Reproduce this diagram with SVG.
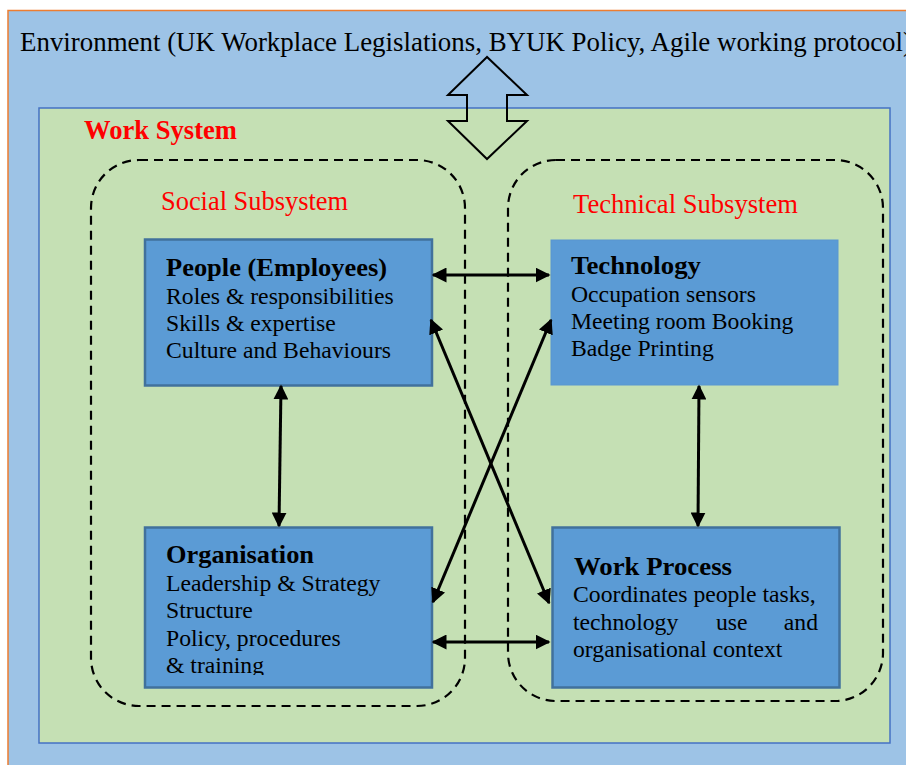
<svg xmlns="http://www.w3.org/2000/svg" width="906" height="765" viewBox="0 0 906 765">
  <defs>
    <marker id="ah" viewBox="0 0 10 10" refX="9" refY="5" markerWidth="5" markerHeight="5" orient="auto-start-reverse" markerUnits="strokeWidth">
      <path d="M0,0 L10,5 L0,10 Z" fill="#000"/>
    </marker>
    <clipPath id="org-clip">
      <rect x="145" y="527" width="287" height="148"/>
    </clipPath>
    <style>
      .serif { font-family: "Liberation Serif", "Times New Roman", serif; }
      .env { fill: #9DC3E6; stroke: #ED7D31; stroke-width: 1.5; }
      .ws { fill: #C5E0B4; stroke: #4472C4; stroke-width: 1.5; }
      .sub { fill: none; stroke: #000; stroke-width: 2.2; stroke-dasharray: 9 6; }
      .box { fill: #5B9BD5; stroke: #41719C; stroke-width: 2.5; }
      .box-thin { fill: #5B9BD5; stroke: #5A96CF; stroke-width: 1; }
      .red { fill: #FF0000; font-size: 26.5px; }
      .title { font-weight: bold; font-size: 25px; fill: #000; }
      .item { font-size: 23.7px; fill: #000; }
      .link { stroke: #000; stroke-width: 3; fill: none; marker-start: url(#ah); marker-end: url(#ah); }
    </style>
  </defs>

  <rect width="906" height="765" fill="#FFFFFF"/>

  <!-- environment -->
  <g id="environment">
    <rect class="env" x="8" y="10.5" width="910" height="770"/>
    <text class="serif" x="20" y="51" font-size="26.5" textLength="892" lengthAdjust="spacingAndGlyphs">Environment (UK Workplace Legislations, BYUK Policy, Agile working protocol)</text>
  </g>

  <!-- work system -->
  <g id="work-system">
    <rect class="ws" x="39" y="108" width="851" height="635"/>
    <text class="serif" x="84" y="139" font-size="26.5" font-weight="bold" fill="#FF0000" textLength="153" lengthAdjust="spacingAndGlyphs">Work System</text>
  </g>

  <!-- exchange between environment and work system -->
  <g id="exchange-arrow">
    <polygon points="487,57 448,95 467,95 467,121 448,121 487,159 527,121 507,121 507,95 527,95" fill="none" stroke="#000" stroke-width="2"/>
  </g>

  <!-- subsystems -->
  <g id="social-subsystem">
    <rect class="sub" x="91" y="160" width="374" height="546" rx="48" ry="48"/>
    <text class="serif red" x="161" y="210" textLength="187" lengthAdjust="spacingAndGlyphs">Social Subsystem</text>
  </g>
  <g id="technical-subsystem">
    <rect class="sub" x="508" y="160" width="375" height="541" rx="48" ry="48"/>
    <text class="serif red" x="573" y="213" textLength="225" lengthAdjust="spacingAndGlyphs">Technical Subsystem</text>
  </g>

  <!-- nodes -->
  <g id="people">
    <rect class="box" x="145" y="239.5" width="287" height="146"/>
    <text class="serif title" x="166" y="276" textLength="221" lengthAdjust="spacingAndGlyphs">People (Employees)</text>
    <text class="serif item" x="166" y="304">Roles &amp; responsibilities</text>
    <text class="serif item" x="166" y="331">Skills &amp; expertise</text>
    <text class="serif item" x="166" y="358">Culture and Behaviours</text>
  </g>

  <g id="technology">
    <rect class="box-thin" x="551" y="240" width="287" height="145"/>
    <text class="serif title" x="571" y="274" textLength="130" lengthAdjust="spacingAndGlyphs">Technology</text>
    <text class="serif item" x="571" y="302">Occupation sensors</text>
    <text class="serif item" x="571" y="329">Meeting room Booking</text>
    <text class="serif item" x="571" y="356">Badge Printing</text>
  </g>

  <g id="organisation">
    <rect class="box" x="145" y="527.5" width="287" height="160"/>
    <text class="serif title" x="166" y="563" textLength="148" lengthAdjust="spacingAndGlyphs">Organisation</text>
    <text class="serif item" x="166" y="591">Leadership &amp; Strategy</text>
    <text class="serif item" x="166" y="618">Structure</text>
    <text class="serif item" x="166" y="646">Policy, procedures</text>
    <text class="serif item" x="166" y="673" clip-path="url(#org-clip)">&amp; training</text>
  </g>

  <g id="work-process">
    <rect class="box" x="552.5" y="527.5" width="287" height="160"/>
    <text class="serif title" x="574" y="575" textLength="158" lengthAdjust="spacingAndGlyphs">Work Process</text>
    <text class="serif item" x="573" y="602">Coordinates people tasks,</text>
    <text class="serif item" x="573" y="630">technology</text>
    <text class="serif item" x="716" y="630">use</text>
    <text class="serif item" x="818" y="630" text-anchor="end">and</text>
    <text class="serif item" x="573" y="657">organisational context</text>
  </g>

  <!-- connectors -->
  <g id="connectors">
    <line class="link" x1="433" y1="275" x2="549" y2="275"/>
    <line class="link" x1="433" y1="642" x2="549" y2="642"/>
    <line class="link" x1="281" y1="386" x2="279" y2="526"/>
    <line class="link" x1="699" y1="386" x2="698" y2="526"/>
    <line class="link" x1="431" y1="320" x2="549" y2="603"/>
    <line class="link" x1="551" y1="320" x2="433" y2="602"/>
  </g>
</svg>
